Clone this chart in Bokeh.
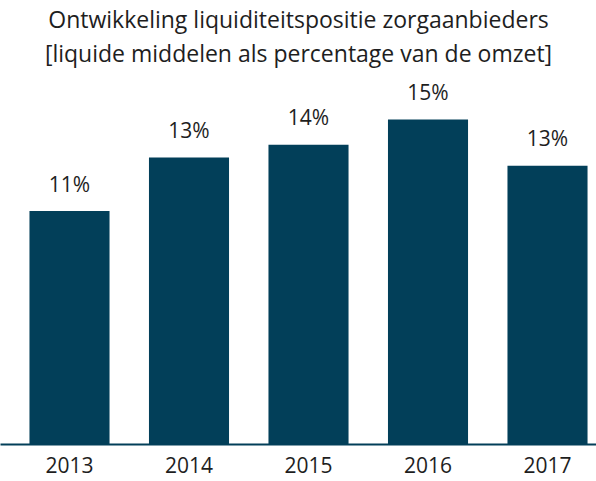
from bokeh.plotting import figure
from bokeh.models import ColumnDataSource, Range1d, FixedTicker, Title, LabelSet
from bokeh.core.properties import value
from bokeh.embed import file_html
from bokeh.resources import INLINE

years = ["2013", "2014", "2015", "2016", "2017"]
values = [10.9, 13.4, 14.0, 15.18, 13.02]
labels = ["11%", "13%", "14%", "15%", "13%"]
title_line1 = "Ontwikkeling liquiditeitspositie zorgaanbieders"
title_line2 = "[liquide middelen als percentage van de omzet]"

BAR = "#023f59"
TXT = "#1e1e1e"
FONT = "Open Sans"

xs = list(range(len(years)))
source = ColumnDataSource(data=dict(x=xs, top=values, label=labels))

W, H = 596, 481
p = figure(width=W, height=H, output_backend="svg", toolbar_location=None,
           x_range=Range1d(-0.5774, 4.410), y_range=Range1d(0, 17.56),
           min_border_left=0, min_border_right=0, min_border_top=8, min_border_bottom=37,
           title=None)
p.outline_line_color = None
p.background_fill_color = "white"
p.border_fill_color = "white"
p.xgrid.visible = False
p.ygrid.visible = False
p.yaxis.visible = False

p.vbar(x="x", top="top", bottom=0, width=0.67, source=source,
       fill_color=BAR, line_color=None)

p.add_layout(LabelSet(x="x", y="top", text="label", source=source,
                      text_align="center", text_baseline="alphabetic", y_offset=19.5,
                      text_font=value(FONT), text_font_size="21px", text_color=TXT))

ax = p.xaxis[0]
ax.ticker = FixedTicker(ticks=xs)
ax.major_label_overrides = {i: y for i, y in enumerate(years)}
ax.major_tick_line_color = None
ax.minor_tick_line_color = None
ax.axis_line_color = BAR
ax.axis_line_width = 2
ax.major_label_text_font = FONT
ax.major_label_text_font_size = "21px"
ax.major_label_text_color = TXT
ax.major_label_standoff = 6

t2 = Title(text=title_line2, align="center", text_font=FONT, text_font_size="23px",
           text_font_style="normal", text_color=TXT, standoff=0, offset=0)
t1 = Title(text=title_line1, align="center", text_font=FONT, text_font_size="23px",
           text_font_style="normal", text_color=TXT, standoff=0, offset=0)
p.add_layout(t2, "above")
p.add_layout(t1, "above")

open("out.html", "w").write(file_html(p, INLINE))
